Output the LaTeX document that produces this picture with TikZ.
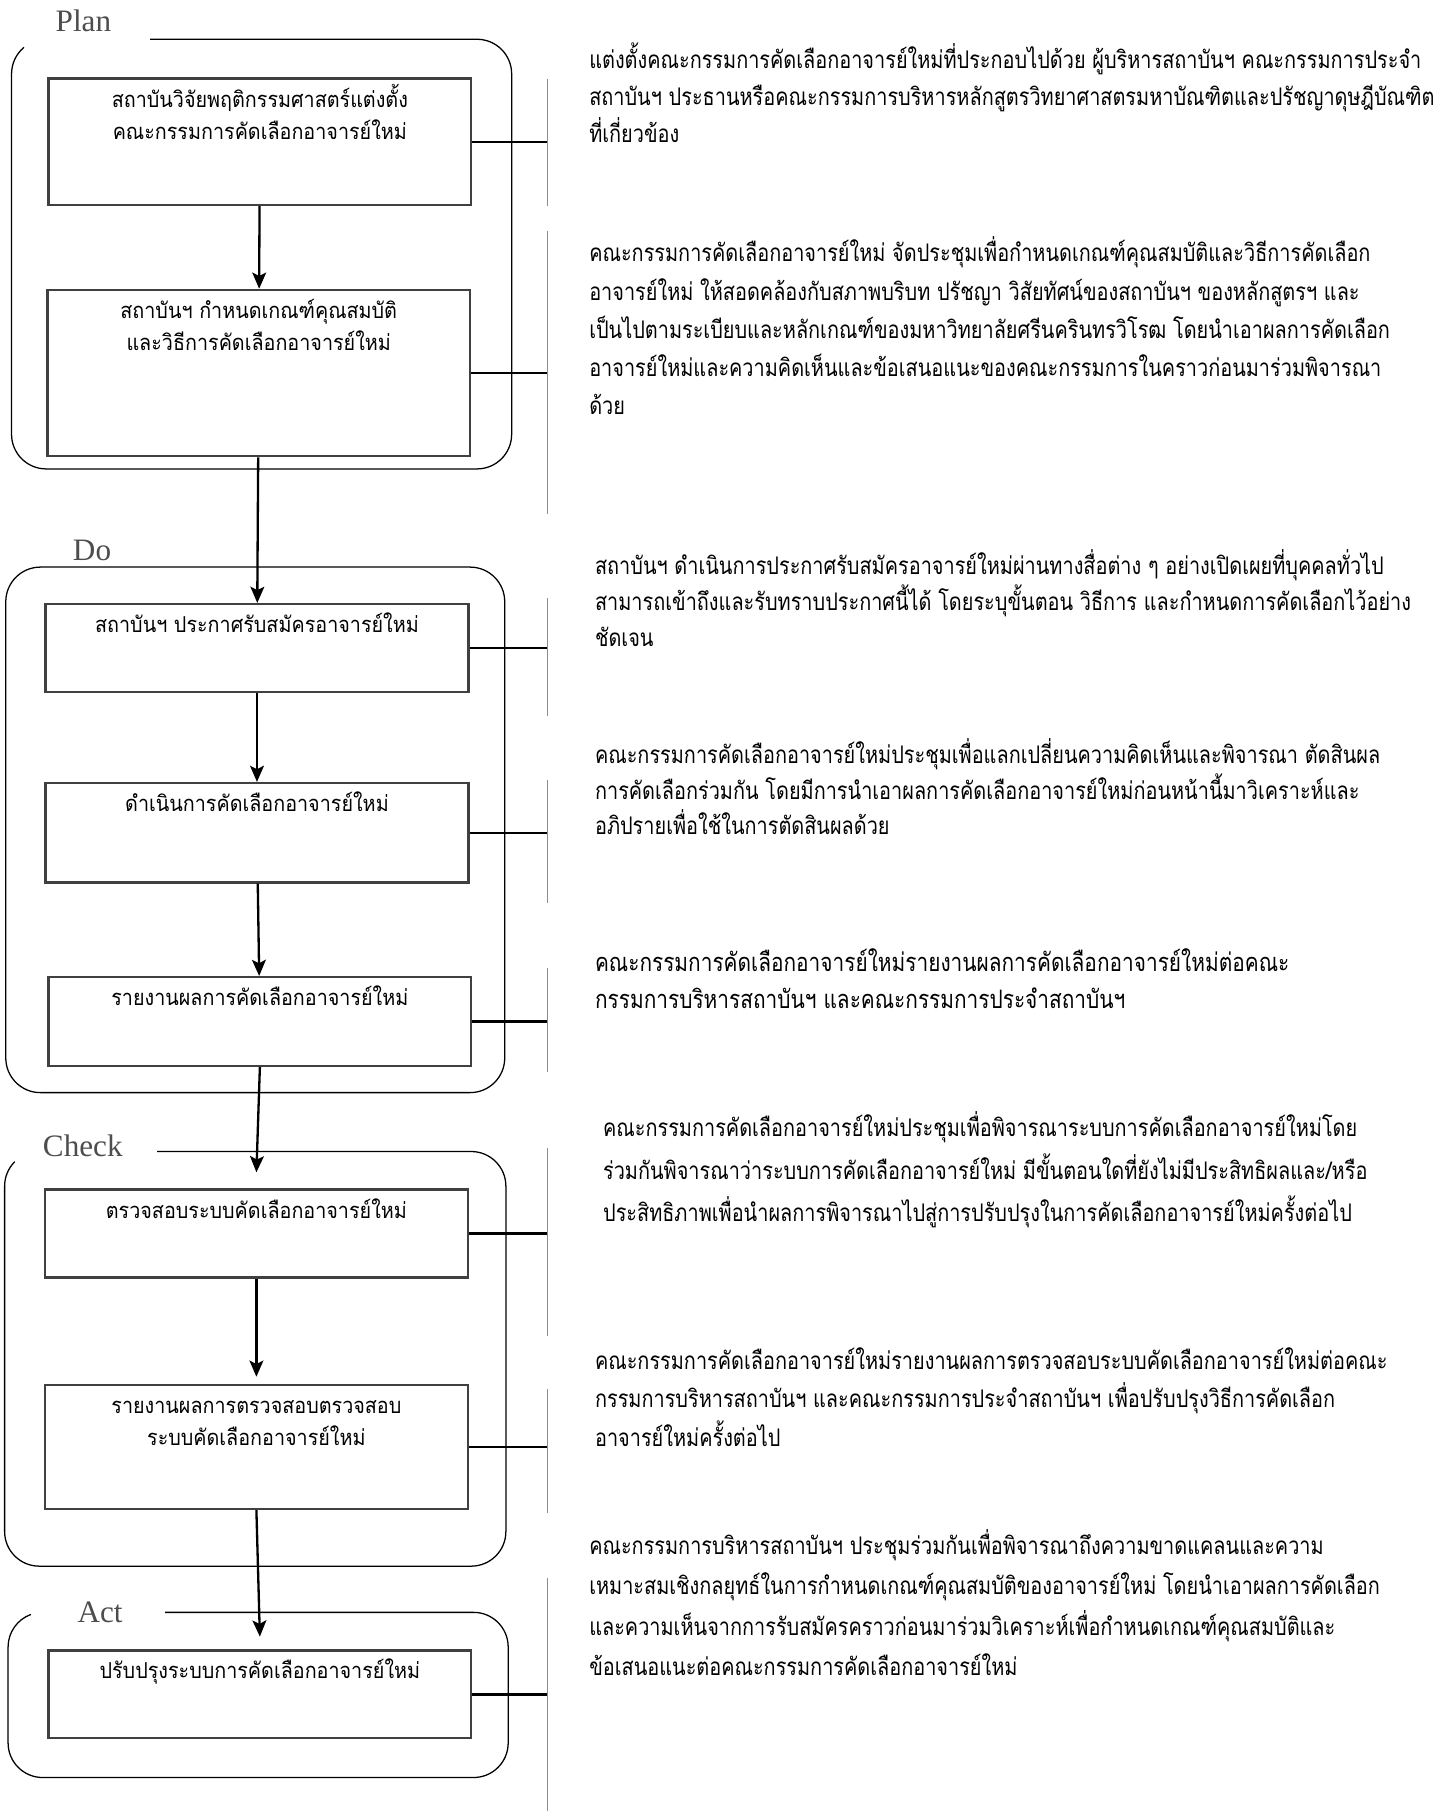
\documentclass[tikz,border=0pt]{standalone}
\usepackage{fontspec}
\usepackage{tikz}
\usetikzlibrary{arrows.meta}
\newfontfamily\thaifont[Script=Thai,FakeStretch=0.9]{Loma}
\newfontfamily\thainarrow[Script=Thai,FakeStretch=0.82]{Loma}
\newfontfamily\phasefont{Liberation Serif}
\definecolor{boxgray}{HTML}{404040}
\definecolor{phasegray}{HTML}{4D4D4D}
\definecolor{rulegray}{HTML}{8C8C8C}
\newcommand{\steptext}[2]{\parbox[c][#1][t]{366pt}{\centering\vspace*{5pt}\strut#2}}

\begin{document}
\begin{tikzpicture}[x=1pt,y=-1pt,
  stepbox/.style={draw=boxgray,line width=2pt,inner sep=0pt,
    font=\thaifont\fontsize{19}{28}\selectfont},
  frame/.style={draw=black,line width=1.1pt},
  phase/.style={anchor=base west,inner sep=0pt,text=phasegray,
    font=\phasefont\fontsize{27}{30}\selectfont},
  flow/.style={line width=2pt,-{Stealth[length=14pt,width=12pt,inset=3pt]}},
  link/.style={line width=2pt},
  rulel/.style={draw=rulegray,line width=1.2pt},
  para/.style={anchor=north west,inner sep=0pt,align=left,
    font=\thainarrow\fontsize{21}{#1}\selectfont},
  para/.default=32]
\useasboundingbox (0,0) rectangle (1256,1568);
\coordinate (rx) at (474,0);

\node[phase] (planlbl) at (48,27) {Plan};
\draw[frame,rounded corners=30pt] (130,34) -- (443,34) -- (443,406) -- (10,406) -- (10,64);
\draw[frame] (10,64) arc[start angle=180,end angle=230,radius=30];
\node[stepbox] (plan1) at (225,122.75) {\steptext{109.5pt}{สถาบันวิจัยพฤติกรรมศาสตร์แต่งตั้ง\\คณะกรรมการคัดเลือกอาจารย์ใหม่}};
\node[stepbox] (plan2) at (224,323) {\steptext{144pt}{สถาบันฯ กำหนดเกณฑ์คุณสมบัติ\\และวิธีการคัดเลือกอาจารย์ใหม่}};

\node[phase] (dolbl) at (63,485) {Do};
\draw[frame,rounded corners=30pt] (5,491) rectangle (437,946);
\node[stepbox] (do1) at (222.5,561) {\steptext{76pt}{สถาบันฯ ประกาศรับสมัครอาจารย์ใหม่}};
\node[stepbox] (do2) at (222.5,721) {\steptext{86pt}{ดำเนินการคัดเลือกอาจารย์ใหม่}};
\node[stepbox] (do3) at (225,884.5) {\steptext{77pt}{รายงานผลการคัดเลือกอาจารย์ใหม่}};

\node[phase] (chklbl) at (37,1001) {Check};
\draw[frame,rounded corners=30pt] (136,997) -- (438,997) -- (438,1356) -- (4,1356) -- (4,1027);
\draw[frame] (4,1027) arc[start angle=180,end angle=225,radius=30];
\node[stepbox] (chk1) at (222,1068) {\steptext{76pt}{ตรวจสอบระบบคัดเลือกอาจารย์ใหม่}};
\node[stepbox] (chk2) at (222,1252.75) {\steptext{107.5pt}{รายงานผลการตรวจสอบตรวจสอบ\\ระบบคัดเลือกอาจารย์ใหม่}};

\node[phase] (actlbl) at (67,1405) {Act};
\draw[frame,rounded corners=30pt] (143,1396) -- (440,1396) -- (440,1539) -- (7,1539) -- (7,1426);
\draw[frame] (7,1426) arc[start angle=180,end angle=250,radius=30];
\node[stepbox] (act1) at (225,1467) {\steptext{76pt}{ปรับปรุงระบบการคัดเลือกอาจารย์ใหม่}};

\draw[flow] (plan1) -- (plan2);
\draw[flow] (plan2) -- (do1);
\draw[flow] (do1) -- (do2);
\draw[flow] (do2) -- (do3);
\draw[flow] (do3.south) -- ([yshift=14pt]chk1.north);
\draw[flow] (chk1) -- ([yshift=6pt]chk2.north);
\draw[flow] (chk2.south) -- ([yshift=11pt]act1.north);

\foreach \b in {plan1,plan2,do1,do2,do3,chk1,chk2,act1}
  \draw[link] (\b.east) -- (\b.east -| rx);

\draw[rulel] (474,68) -- (474,178);
\draw[rulel] (474,200) -- (474,445);
\draw[rulel] (474,518) -- (474,620);
\draw[rulel] (474,675) -- (474,782);
\draw[rulel] (474,838) -- (474,928);
\draw[rulel] (474,994) -- (474,1157);
\draw[rulel] (474,1203) -- (474,1310);
\draw[rulel] (474,1366) -- (474,1568);

\node[para] (txtplan1) at (510,37) {แต่งตั้งคณะกรรมการคัดเลือกอาจารย์ใหม่ที่ประกอบไปด้วย ผู้บริหารสถาบันฯ คณะกรรมการประจำ\\สถาบันฯ ประธานหรือคณะกรรมการบริหารหลักสูตรวิทยาศาสตรมหาบัณฑิตและปรัชญาดุษฎีบัณฑิต\\ที่เกี่ยวข้อง};
\node[para=33] (txtplan2) at (510,205) {คณะกรรมการคัดเลือกอาจารย์ใหม่ จัดประชุมเพื่อกำหนดเกณฑ์คุณสมบัติและวิธีการคัดเลือก\\อาจารย์ใหม่ ให้สอดคล้องกับสภาพบริบท ปรัชญา วิสัยทัศน์ของสถาบันฯ ของหลักสูตรฯ และ\\เป็นไปตามระเบียบและหลักเกณฑ์ของมหาวิทยาลัยศรีนครินทรวิโรฒ โดยนำเอาผลการคัดเลือก\\อาจารย์ใหม่และความคิดเห็นและข้อเสนอแนะของคณะกรรมการในคราวก่อนมาร่วมพิจารณา\\ด้วย};
\node[para=31] (txtdo1) at (515,476) {สถาบันฯ ดำเนินการประกาศรับสมัครอาจารย์ใหม่ผ่านทางสื่อต่าง ๆ อย่างเปิดเผยที่บุคคลทั่วไป\\สามารถเข้าถึงและรับทราบประกาศนี้ได้ โดยระบุขั้นตอน วิธีการ และกำหนดการคัดเลือกไว้อย่าง\\ชัดเจน};
\node[para=31] (txtdo2) at (515,639) {คณะกรรมการคัดเลือกอาจารย์ใหม่ประชุมเพื่อแลกเปลี่ยนความคิดเห็นและพิจารณา ตัดสินผล\\การคัดเลือกร่วมกัน โดยมีการนำเอาผลการคัดเลือกอาจารย์ใหม่ก่อนหน้านี้มาวิเคราะห์และ\\อภิปรายเพื่อใช้ในการตัดสินผลด้วย};
\node[para=32,font=\thainarrow\fontsize{22}{32}\selectfont] (txtdo3) at (515,821) {คณะกรรมการคัดเลือกอาจารย์ใหม่รายงานผลการคัดเลือกอาจารย์ใหม่ต่อคณะ\\กรรมการบริหารสถาบันฯ และคณะกรรมการประจำสถาบันฯ};
\node[para=37] (txtchk1) at (522,962) {คณะกรรมการคัดเลือกอาจารย์ใหม่ประชุมเพื่อพิจารณาระบบการคัดเลือกอาจารย์ใหม่โดย\\ร่วมกันพิจารณาว่าระบบการคัดเลือกอาจารย์ใหม่ มีขั้นตอนใดที่ยังไม่มีประสิทธิผลและ/หรือ\\ประสิทธิภาพเพื่อนำผลการพิจารณาไปสู่การปรับปรุงในการคัดเลือกอาจารย์ใหม่ครั้งต่อไป};
\node[para=33] (txtchk2) at (515,1167) {คณะกรรมการคัดเลือกอาจารย์ใหม่รายงานผลการตรวจสอบระบบคัดเลือกอาจารย์ใหม่ต่อคณะ\\กรรมการบริหารสถาบันฯ และคณะกรรมการประจำสถาบันฯ เพื่อปรับปรุงวิธีการคัดเลือก\\อาจารย์ใหม่ครั้งต่อไป};
\node[para=35] (txtact1) at (510,1324) {คณะกรรมการบริหารสถาบันฯ ประชุมร่วมกันเพื่อพิจารณาถึงความขาดแคลนและความ\\เหมาะสมเชิงกลยุทธ์ในการกำหนดเกณฑ์คุณสมบัติของอาจารย์ใหม่ โดยนำเอาผลการคัดเลือก\\และความเห็นจากการรับสมัครคราวก่อนมาร่วมวิเคราะห์เพื่อกำหนดเกณฑ์คุณสมบัติและ\\ข้อเสนอแนะต่อคณะกรรมการคัดเลือกอาจารย์ใหม่};
\end{tikzpicture}
\end{document}
